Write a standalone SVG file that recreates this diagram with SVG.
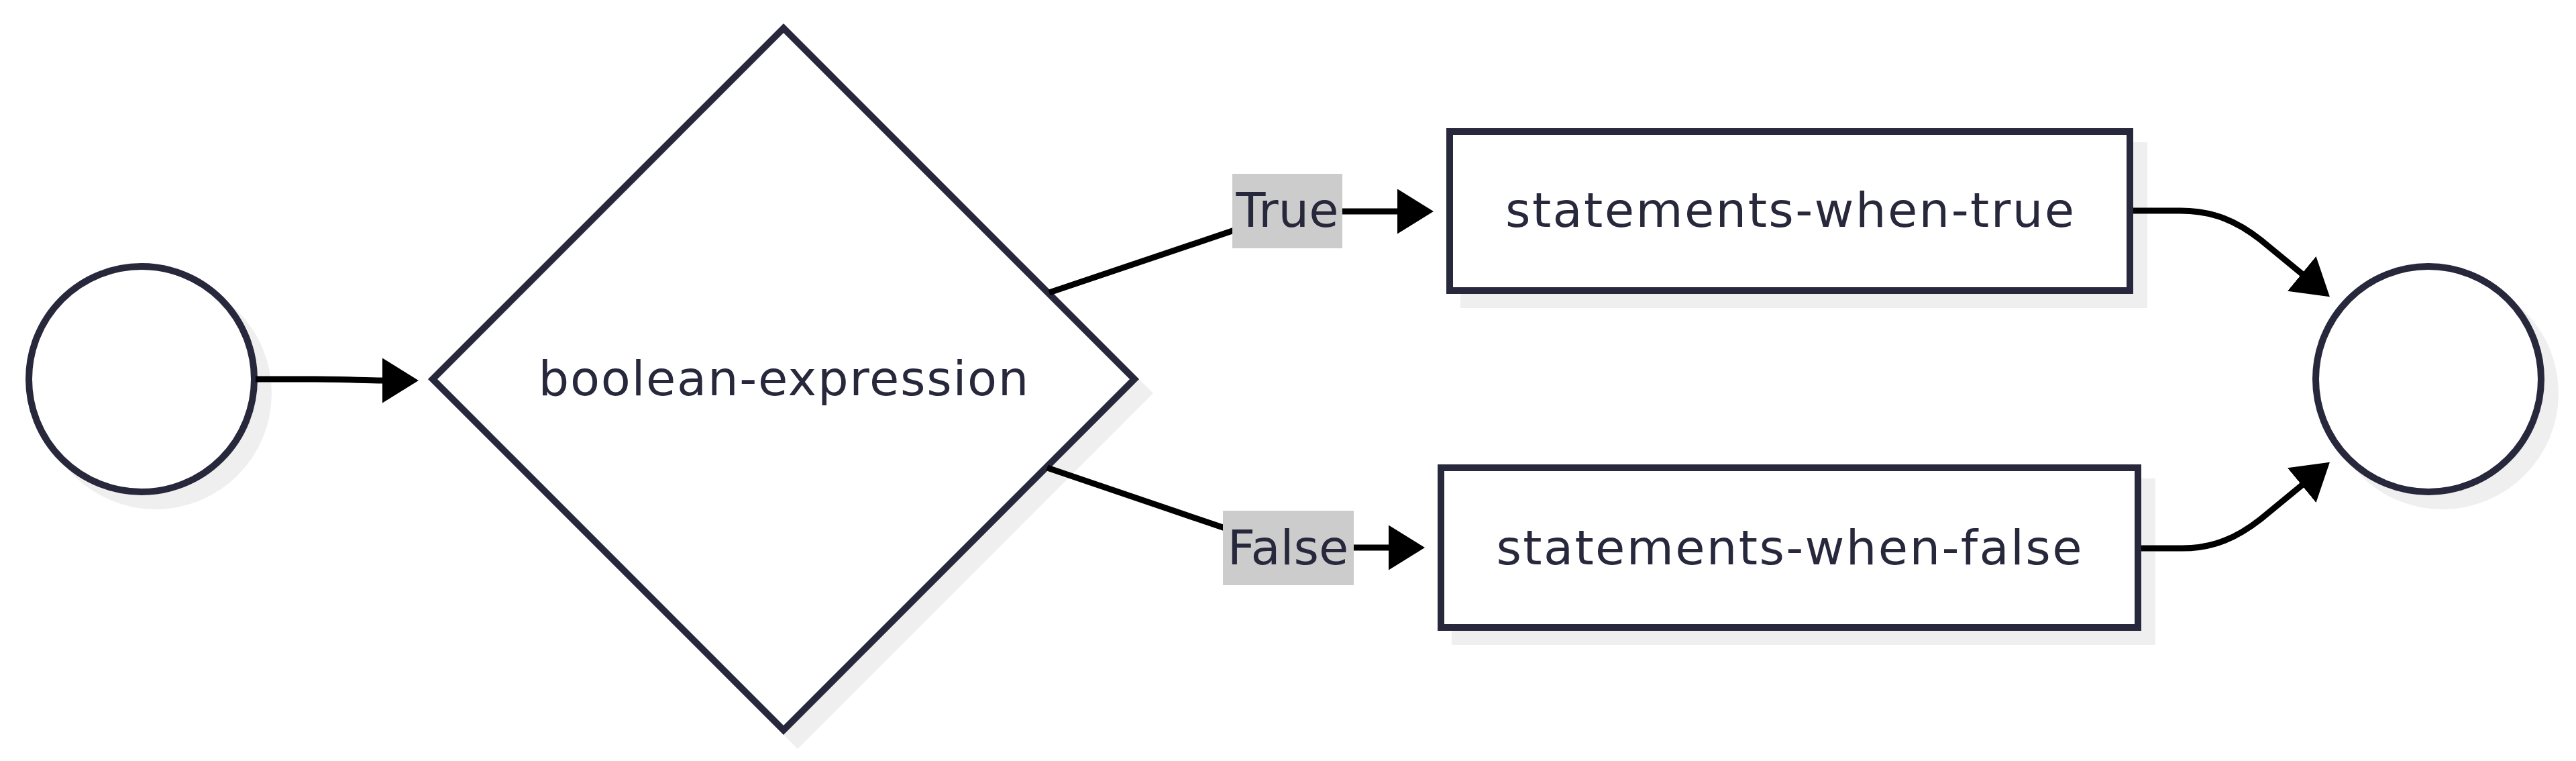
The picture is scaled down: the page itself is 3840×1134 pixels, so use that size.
<svg xmlns="http://www.w3.org/2000/svg" width="3840" height="1134" viewBox="0 0 3840 1134">
<style>
.node{fill:#ffffff;stroke:#28283c;stroke-width:10}
.shadow{fill:#efefef;stroke:none}
.lbl{font-family:"DejaVu Sans","Liberation Sans",sans-serif;font-size:72px;fill:#28283c;text-anchor:middle}
.edge{fill:none;stroke:#000000;stroke-width:9}
.ebg{fill:#cccccc}
</style>
<defs>
<marker id="arrow" markerUnits="userSpaceOnUse" viewBox="0 0 54 67" markerWidth="54" markerHeight="67" refX="1" refY="33.5" orient="auto">
<path d="M0,0 L54,33.5 L0,67 z" fill="#000000"/>
</marker>
</defs>
<rect width="3840" height="1134" fill="#ffffff"/>
<g id="start">
<circle class="shadow" cx="232" cy="586" r="173"/>
<circle class="node" cx="211" cy="565" r="168"/>
</g>
<g id="decision">
<polygon class="shadow" points="1189,58 1719,586 1189,1116 659,586"/>
<polygon class="node" points="1168,42 1691,565 1168,1088 645,565"/>
<text class="lbl" x="1168" y="589" textLength="731" lengthAdjust="spacing">boolean-expression</text>
</g>
<g id="whenTrue">
<rect class="shadow" x="2177" y="212" width="1024" height="247"/>
<rect class="node" x="2161" y="196" width="1014" height="237"/>
<text class="lbl" x="2668" y="338" textLength="848" lengthAdjust="spacing">statements-when-true</text>
</g>
<g id="whenFalse">
<rect class="shadow" x="2164" y="713" width="1049" height="248"/>
<rect class="node" x="2148" y="697" width="1039" height="238"/>
<text class="lbl" x="2667" y="841" textLength="873" lengthAdjust="spacing">statements-when-false</text>
</g>
<g id="end">
<circle class="shadow" cx="3641" cy="586" r="173"/>
<circle class="node" cx="3620" cy="565" r="168"/>
</g>
<g id="connectors">
<path class="edge" marker-end="url(#arrow)" d="M381,565 L470,565 C520,565 540,567 571,567"/>
<path class="edge" marker-end="url(#arrow)" d="M1564,436 L1840,343 C1890,326 1920,315 1960,315 L2084,315"/>
<path class="edge" marker-end="url(#arrow)" d="M1561,697 L1823,786 C1870,802 1900,816 1950,816 L2071,816"/>
<path class="edge" marker-end="url(#arrow)" d="M3180,314 L3250,314 C3300,314 3335,330 3370,357.5 L3432,408.5"/>
<path class="edge" marker-end="url(#arrow)" d="M3192,817 L3253,817 C3300,817 3335,801 3370,773.5 L3432,722.5"/>
<g id="label-true">
<rect class="ebg" x="1837" y="259" width="164" height="111"/>
<text class="lbl" x="1919" y="338">True</text>
</g>
<g id="label-false">
<rect class="ebg" x="1823" y="761" width="195" height="111"/>
<text class="lbl" x="1920" y="841">False</text>
</g>
</g>
</svg>
